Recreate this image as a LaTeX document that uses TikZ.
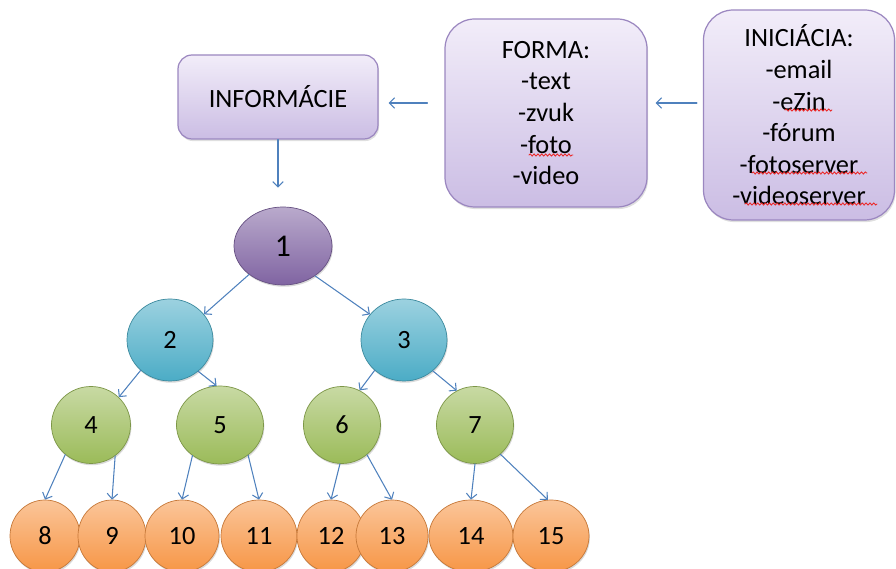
\documentclass[tikz,border=0pt]{standalone}
\usepackage{fontspec}
\setmainfont{Carlito}
\usepackage{tikz}
\usetikzlibrary{arrows.meta, shapes.geometric, shadows, decorations.pathmorphing}
\definecolor{infoTop}{RGB}{242,237,249}
\definecolor{infoBottom}{RGB}{203,189,228}
\definecolor{infoBorder}{RGB}{155,135,192}
\definecolor{treePurple}{RGB}{128,100,162}
\definecolor{treeBlue}{RGB}{75,172,198}
\definecolor{treeGreen}{RGB}{155,187,89}
\definecolor{treeOrange}{RGB}{247,150,70}
\definecolor{linkBlue}{RGB}{79,129,189}
\definecolor{spellRed}{RGB}{235,40,40}

\begin{document}
\begin{tikzpicture}[line cap=round,
		textbox/.style={draw=infoBorder, line width=0.7pt, top color=infoTop, bottom color=infoBottom,
			align=center, inner sep=0pt, font=\fontsize{15}{18}\selectfont,
			drop shadow={opacity=0.25, shadow xshift=0.6pt, shadow yshift=-1.2pt}},
		ball/.style={ellipse, inner sep=0pt, top color=#1!55!white, bottom color=#1, draw=#1!80!black,
			line width=0.4pt, font=\fontsize{15}{18}\selectfont,
			drop shadow={opacity=0.3, shadow xshift=0.5pt, shadow yshift=-1pt}},
		link/.style={linkBlue, line width=0.6pt, -{Straight Barb[length=3pt, width=6pt]}},
		spell/.style={spellRed, line width=0.5pt, decorate, decoration={snake, amplitude=0.6pt, segment length=2.2pt}}
	]
	\useasboundingbox (0,0) rectangle (17.92,11.38);

	\node[textbox, rounded corners=8pt, minimum width=4cm, minimum height=1.68cm] (info) at (5.56,9.44) {INFORMÁCIE};
	\node[textbox, rounded corners=17pt, minimum width=4.04cm, minimum height=3.76cm] (forma) at (10.92,9.12)
		{FORMA:\\-text\\-zvuk\\-foto\\-video};
	\node[textbox, rounded corners=17pt, minimum width=3.82cm, minimum height=4.2cm] (inic) at (15.98,9.08)
		{INICIÁCIA:\\-email\\-eZin\\-fórum\\-fotoserver\\-videoserver};

	% spelling marks
	\foreach \xa/\xb/\y in {10.58/11.46/8.28, 15.70/16.64/9.18, 15.04/17.34/7.92, 14.90/17.54/7.30}
		\draw[spell] (\xa,\y) -- (\xb,\y);

	\node[ball=treePurple, minimum width=1.96cm, minimum height=1.56cm, font=\fontsize{18}{20}\selectfont] (n1) at (5.66,6.46) {1};
	\node[ball=treeBlue, minimum width=1.72cm, minimum height=1.64cm] (n2) at (3.40,4.58) {2};
	\node[ball=treeBlue, minimum width=1.72cm, minimum height=1.64cm] (n3) at (8.08,4.58) {3};
	\node[ball=treeGreen, minimum width=1.58cm, minimum height=1.54cm] (n4) at (1.82,2.88) {4};
	\node[ball=treeGreen, minimum width=1.74cm, minimum height=1.56cm] (n5) at (4.40,2.88) {5};
	\node[ball=treeGreen, minimum width=1.54cm, minimum height=1.54cm] (n6) at (6.84,2.88) {6};
	\node[ball=treeGreen, minimum width=1.54cm, minimum height=1.54cm] (n7) at (9.50,2.88) {7};
	\foreach \n/\x/\w in {8/0.90/1.40, 9/2.24/1.36, 10/3.64/1.48, 11/5.18/1.52, 12/6.62/1.36, 13/7.84/1.44, 14/9.42/1.68, 15/11.02/1.52}
		\node[ball=treeOrange, minimum width=\w cm, minimum height=1.44cm] (n\n) at (\x,0.66) {\n};

	\foreach \a/\b/\s/\e in {1/2/220/37, 1/3/317/143, 2/4/226/45, 2/5/312/95, 3/6/226/63, 3/7/313/118,
			4/8/229/90, 4/9/308/90, 5/10/228/90, 5/11/313/90, 6/12/267/90, 6/13/310/90, 7/14/270/90, 7/15/311/95}
		\draw[link] (n\a.\s) -- (n\b.\e);

	\coordinate (topline) at (0,9.32);
	\draw[link, shorten <=0.12cm, shorten >=0.16cm] (inic.west |- topline) -- (forma.east |- topline);
	\draw[link, shorten <=0.34cm, shorten >=0.2cm] (forma.west |- topline) -- (info.east |- topline);
	\draw[link, shorten >=0.38cm] (info.south) -- (info.south |- n1.north);

\end{tikzpicture}
\end{document}
